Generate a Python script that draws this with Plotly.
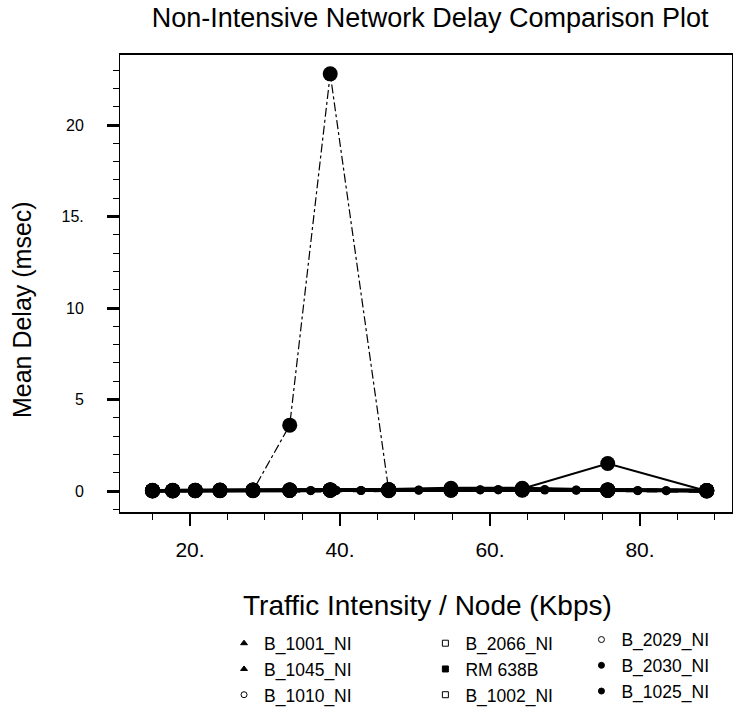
import plotly.graph_objects as go

# ---------------- data ----------------
x_main = [15.0, 17.7, 20.7, 24.0, 28.4, 33.3, 38.7, 46.5, 54.8, 64.3, 75.7, 88.9]
x_fine = [33.3, 36.1, 39.5, 42.8, 46.5, 50.5, 54.8, 58.7, 61.1, 64.3, 67.3, 71.5, 75.7, 79.7, 83.5, 88.9]

b1001 = [0.02, 0.02, 0.03, 0.03, 0.04, 0.04, 0.05, 0.05, 0.06, 0.07, 0.05, 0.03]
b1045 = [0.01, 0.02, 0.02, 0.03, 0.03, 0.03, 0.04, 0.05, 0.05, 0.06, 0.04, 0.02]
b1010 = [0.03, 0.03, 0.04, 0.03, 0.05, 0.06, 0.07, 0.07, 0.08, 0.10, 0.08, 0.06, 0.04, 0.03, 0.02, 0.01]
b2066 = [0.02, 0.03, 0.03, 0.04, 0.04, 0.05, 0.05, 0.06, 0.08, 0.09, 0.06, 0.03]
rm638 = [0.01, 0.02, 0.02, 0.03, 0.03, 0.04, 0.05, 0.06, 0.06, 0.07, 0.05, 0.04, 0.03, 0.02, 0.02, 0.01]
b1002 = [0.02, 0.02, 0.03, 0.03, 0.04, 0.05, 0.06, 0.08, 0.15, 0.15, 0.06, 0.02]
b2029 = [0.03, 0.03, 0.04, 0.04, 0.05, 0.05, 0.06, 0.06, 0.07, 0.08, 0.05, 0.03]
b2030 = [0.04, 0.04, 0.04, 0.05, 0.05, 0.05, 0.06, 0.07, 0.10, 0.12, 1.50, 0.00]
b1025 = [0.00, 0.00, 0.01, 0.01, 0.02, 3.60, 22.80, 0.02, 0.04, 0.05, 0.03, 0.00]

legend_cols = [
    ["B_1001_NI", "B_1045_NI", "B_1010_NI"],
    ["B_2066_NI", "RM 638B", "B_1002_NI"],
    ["B_2029_NI", "B_2030_NI", "B_1025_NI"],
]
legend_symbols = {
    "B_1001_NI": "triangle-up", "B_1045_NI": "triangle-up", "B_1010_NI": "circle-open",
    "B_2066_NI": "square-open", "RM 638B": "square", "B_1002_NI": "square-open",
    "B_2029_NI": "circle-open", "B_2030_NI": "circle", "B_1025_NI": "circle",
}

x_ticks = [20, 40, 60, 80]
x_ticktext = ["20.", "40.", "60.", "80."]
y_ticks = [0, 5, 10, 15, 20]
y_ticktext = ["0", "5", "10", "15.", "20"]

FONT = "Liberation Sans, Arial, Helvetica, sans-serif"

fig = go.Figure()

series = [
    ("B_1001_NI", x_main, b1001, dict(width=3.5), 15),
    ("B_1045_NI", x_main, b1045, dict(width=3.5), 15),
    ("B_1010_NI", x_fine, b1010, dict(width=3.5, dash="dash"), 9),
    ("B_2066_NI", x_main, b2066, dict(width=3.5), 15),
    ("RM 638B", x_fine, rm638, dict(width=3.5, dash="dash"), 9),
    ("B_1002_NI", x_main, b1002, dict(width=3), 15),
    ("B_2029_NI", x_main, b2029, dict(width=3), 15),
    ("B_2030_NI", x_main, b2030, dict(width=2), 15),
    ("B_1025_NI", x_main, b1025, dict(width=1.2, dash="dashdot"), 15),
]
for name, xs, ys, line, msize in series:
    fig.add_trace(go.Scatter(
        x=xs, y=ys, name=name, mode="lines+markers",
        line=dict(color="black", **line),
        marker=dict(symbol="circle", size=msize, color="black"),
        showlegend=False, hoverinfo="x+y+name",
    ))

# legend-only entries (3 columns)
legend_keys = ["legend", "legend2", "legend3"]
for key, col in zip(legend_keys, legend_cols):
    for name in col:
        fig.add_trace(go.Scatter(
            x=[None], y=[None], name=name, mode="markers",
            marker=dict(symbol=legend_symbols[name], size=6, color="black",
                        line=dict(color="black", width=1)),
            legend=key, showlegend=True,
        ))

legend_common = dict(
    orientation="v", font=dict(family=FONT, size=17.5, color="black"),
    bgcolor="rgba(0,0,0,0)", borderwidth=0, itemsizing="trace",
    xanchor="left", yanchor="top", tracegroupgap=0,
)

fig.update_layout(
    width=734, height=718,
    margin=dict(l=120, r=2, t=55, b=206),
    paper_bgcolor="white", plot_bgcolor="white",
    font=dict(family=FONT, color="black"),
    title=dict(text="Non-Intensive Network Delay Comparison Plot",
               x=0.586, xanchor="center", y=0.975, yanchor="middle", yref="container",
               font=dict(family=FONT, size=27, color="black")),
    legend=dict(x=0.17, y=-0.248, **legend_common),
    legend2=dict(x=0.499, y=-0.248, **legend_common),
    legend3=dict(x=0.754, y=-0.24, **legend_common),
    showlegend=True,
    annotations=[
        dict(text="Traffic Intensity / Node (Kbps)", xref="paper", yref="paper",
             x=0.502, y=-0.204, xanchor="center", yanchor="middle", showarrow=False,
             font=dict(family=FONT, size=28, color="black")),
        dict(text="Mean Delay (msec)", xref="paper", yref="paper",
             x=-0.160, y=0.442, xanchor="center", yanchor="middle", showarrow=False,
             textangle=-90, font=dict(family=FONT, size=25, color="black")),
    ],
)

fig.update_xaxes(
    range=[10.67, 92.27], tickvals=x_ticks, ticktext=x_ticktext,
    ticks="outside", ticklen=12, tickwidth=2, tickcolor="black",
    showline=True, linewidth=2, linecolor="black", mirror=True,
    showgrid=False, zeroline=False, ticklabelstandoff=6,
    tickfont=dict(family=FONT, size=21, color="black"),
    minor=dict(tickvals=[15, 25, 30, 35, 45, 50, 55, 65, 70, 75, 85, 90],
               ticks="outside", ticklen=6, tickwidth=1, tickcolor="black"),
)
fig.update_yaxes(
    range=[-1.148, 23.83], tickvals=y_ticks, ticktext=y_ticktext,
    ticks="outside", ticklen=12, tickwidth=3, tickcolor="black",
    showline=True, linewidth=1, linecolor="black", mirror=True,
    showgrid=False, zeroline=False, ticklabelstandoff=20,
    tickfont=dict(family=FONT, size=16, color="black"),
    minor=dict(dtick=1, tick0=0, ticks="outside", ticklen=6, tickwidth=1, tickcolor="black"),
)

fig.write_html("out.html",
               config={"displayModeBar": False},
               post_script="document.body.style.margin='0';document.body.style.overflow='hidden';")
